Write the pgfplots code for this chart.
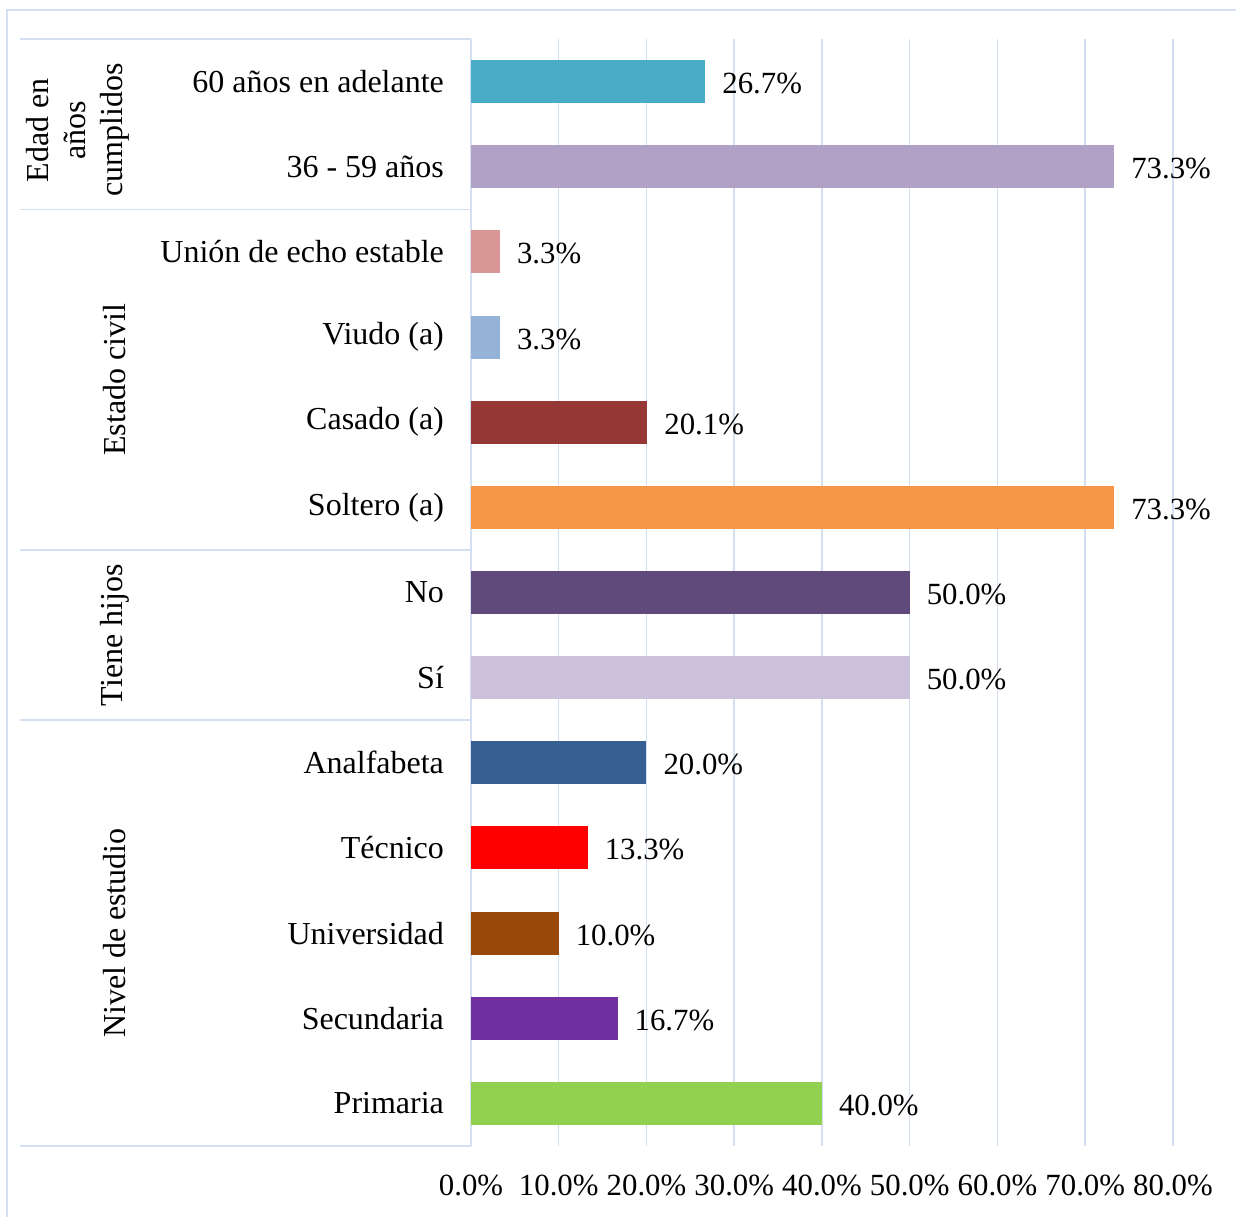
\documentclass[border=0pt]{standalone}
\usepackage{fontspec}
\setmainfont{Liberation Serif}
\usepackage{pgfplots}
\pgfplotsset{compat=1.18}
\definecolor{gridblue}{HTML}{D4E0F2}
\definecolor{c01}{HTML}{4BACC6}
\definecolor{c02}{HTML}{B2A1C7}
\definecolor{c03}{HTML}{D99694}
\definecolor{c04}{HTML}{95B3D7}
\definecolor{c05}{HTML}{953735}
\definecolor{c06}{HTML}{F79646}
\definecolor{c07}{HTML}{604A7B}
\definecolor{c08}{HTML}{CCC1DA}
\definecolor{c09}{HTML}{366092}
\definecolor{c10}{HTML}{FF0000}
\definecolor{c11}{HTML}{984807}
\definecolor{c12}{HTML}{7030A0}
\definecolor{c13}{HTML}{92D050}
\begin{document}
\begin{tikzpicture}[font=\fontsize{16}{18.5}\selectfont]
\begin{axis}[
    scale only axis, width=351pt, height=553.5pt,
    xmin=0, xmax=80, ymin=0.5, ymax=13.5,
    xbar, bar width=21.5pt,
    axis line style={draw=none},
    major tick length=0pt,
    xtick={0,10,...,80},
    xmajorgrids, grid style={gridblue, line width=0.75pt},
    /pgf/number format/assume math mode=true,
    xticklabel={\pgfmathprintnumber[fixed,fixed zerofill,precision=1]{\tick}\%},
    xticklabel style={yshift=-11pt, font=\fontsize{15.4}{18}\selectfont},
    ytick={1,...,13},
    yticklabels={Primaria, Secundaria, Universidad, T\'ecnico, Analfabeta, S\'i, No, Soltero (a), Casado (a), Viudo (a), Uni\'on de echo estable, 36 - 59 a\~nos, 60 a\~nos en adelante},
    yticklabel style={xshift=-10pt},
    nodes near coords={\pgfmathprintnumber[fixed,fixed zerofill,precision=1]{\pgfplotspointmeta}\%},
    nodes near coords style={anchor=west, xshift=5pt, yshift=-1pt, font=\fontsize{15.4}{18}\selectfont},
    clip=false,
]
\addplot[fill=c01, draw=none, bar shift=0pt] coordinates {(26.7,13)};
\addplot[fill=c02, draw=none, bar shift=0pt] coordinates {(73.3,12)};
\addplot[fill=c03, draw=none, bar shift=0pt] coordinates {(3.3,11)};
\addplot[fill=c04, draw=none, bar shift=0pt] coordinates {(3.3,10)};
\addplot[fill=c05, draw=none, bar shift=0pt] coordinates {(20.1,9)};
\addplot[fill=c06, draw=none, bar shift=0pt] coordinates {(73.3,8)};
\addplot[fill=c07, draw=none, bar shift=0pt] coordinates {(50.0,7)};
\addplot[fill=c08, draw=none, bar shift=0pt] coordinates {(50.0,6)};
\addplot[fill=c09, draw=none, bar shift=0pt] coordinates {(20.0,5)};
\addplot[fill=c10, draw=none, bar shift=0pt] coordinates {(13.3,4)};
\addplot[fill=c11, draw=none, bar shift=0pt] coordinates {(10.0,3)};
\addplot[fill=c12, draw=none, bar shift=0pt] coordinates {(16.7,2)};
\addplot[fill=c13, draw=none, bar shift=0pt] coordinates {(40.0,1)};
% group separators
\pgfplotsinvokeforeach{13.5,11.5,7.5,5.5,0.5}{
  \draw[gridblue, line width=0.75pt] (axis cs:-51.4,#1) -- (axis cs:0,#1);
}
% group titles
\node[rotate=90, align=center] at (axis cs:-44.8,12.43) {Edad en\\a\~nos\\cumplidos};
\node[rotate=90] at (axis cs:-40.6,9.5) {Estado civil};
\node[rotate=90] at (axis cs:-40.6,6.5) {Tiene hijos};
\node[rotate=90] at (axis cs:-40.6,3) {Nivel de estudio};
\end{axis}
\pgfresetboundingbox
\useasboundingbox (-235.5pt,-35pt) rectangle (382.5pt,573pt);
\draw[gridblue, line width=0.75pt] (-232pt,-60pt) -- (-232pt,568pt) -- (400pt,568pt);
\end{tikzpicture}
\end{document}
